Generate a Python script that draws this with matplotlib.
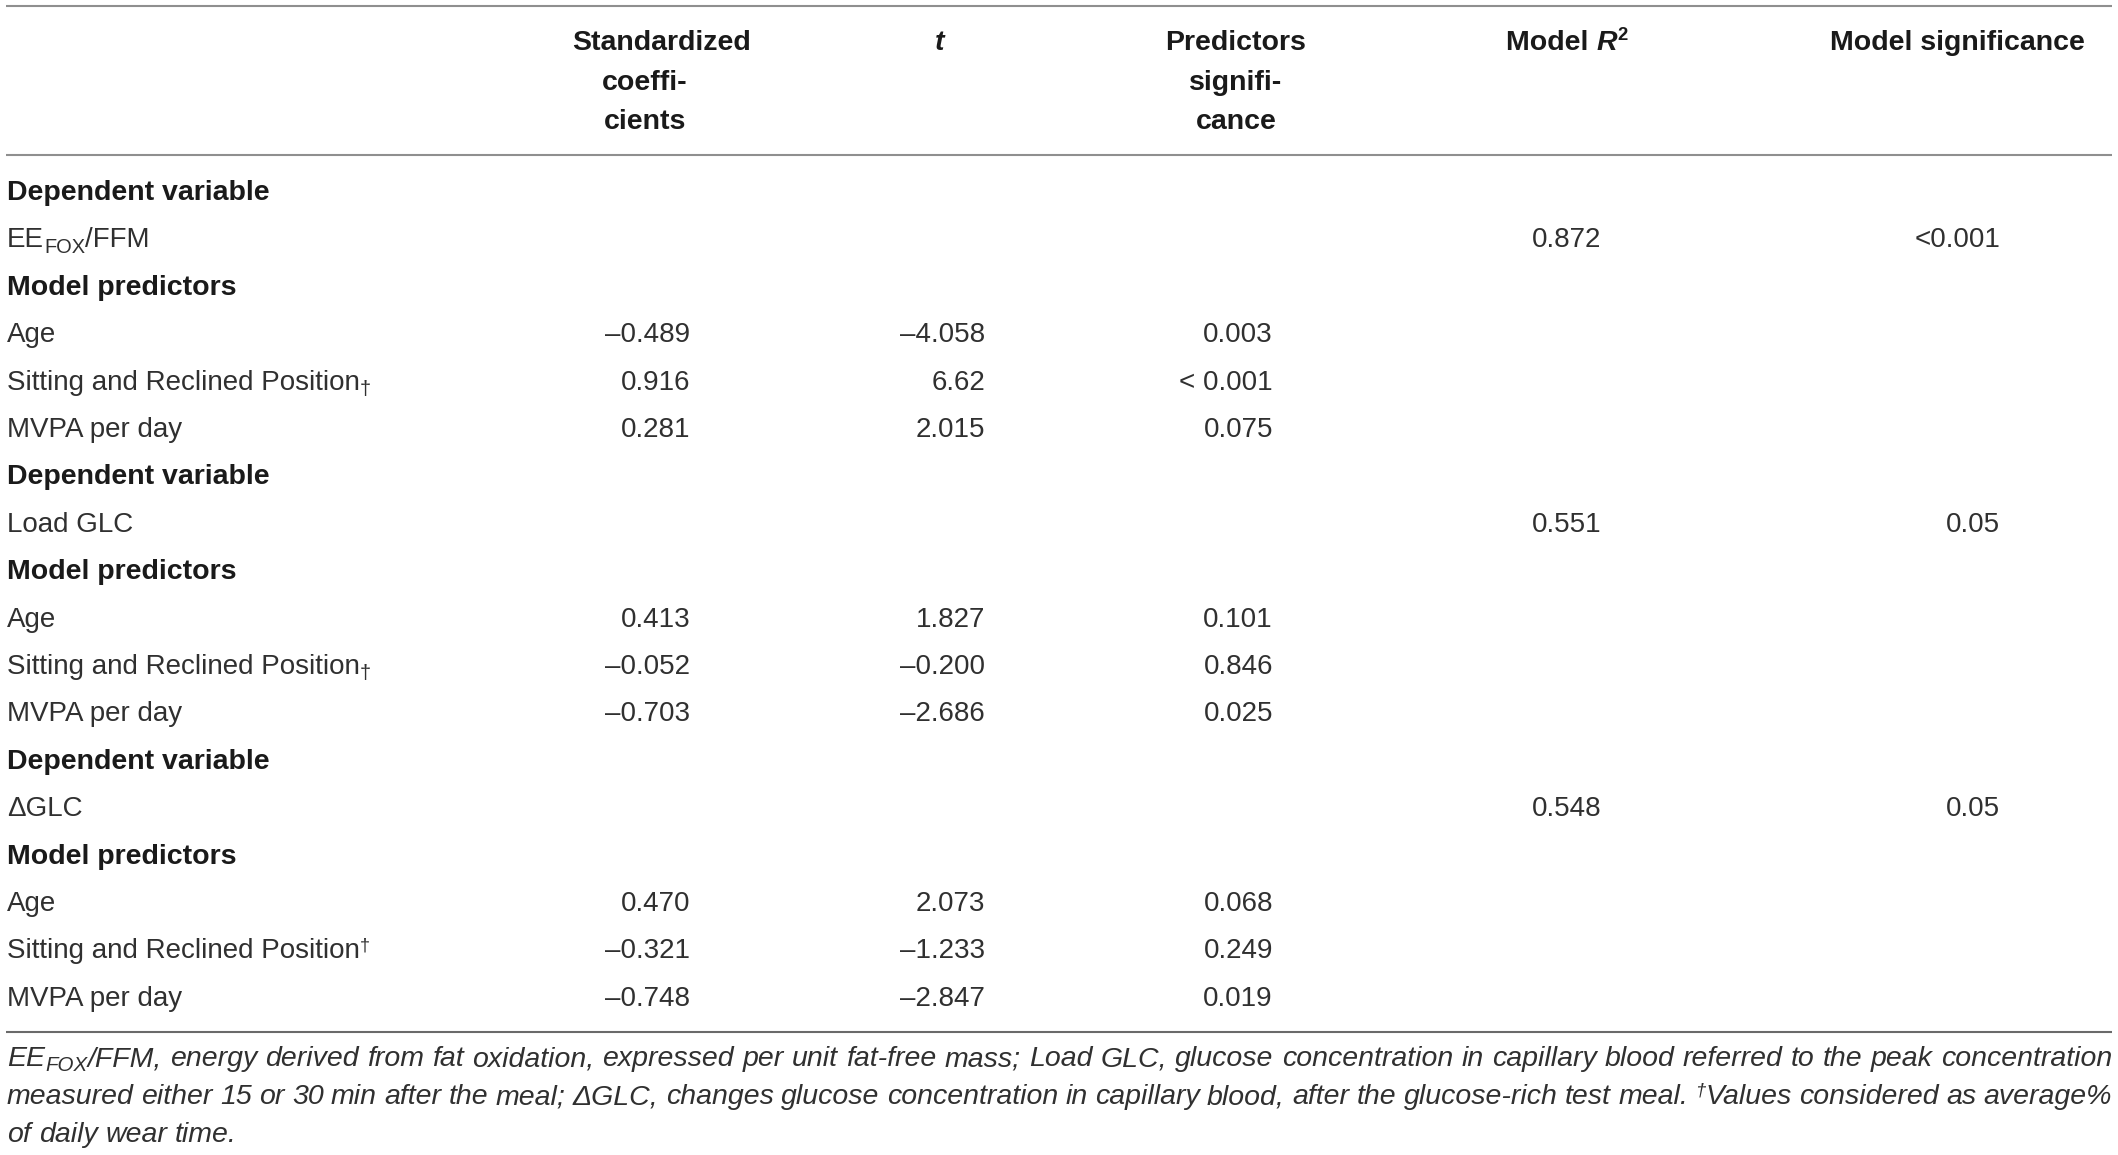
import re
import matplotlib
matplotlib.use('Agg')
import matplotlib.pyplot as plt

# ---------------- data ----------------
col_headers = ["Standardized coeffi- cients", "t", "Predictors signifi- cance", "Model R2", "Model significance"]
dependent_vars = ["EE_{FOX}/FFM", "Load GLC", "\u0394GLC"]
model_r2 = ["0.872", "0.551", "0.548"]
model_sig = ["<0.001", "0.05", "0.05"]
predictor_labels = [
    ["Age", "Sitting and Reclined Position_{\u2020}", "MVPA per day"],
    ["Age", "Sitting and Reclined Position_{\u2020}", "MVPA per day"],
    ["Age", "Sitting and Reclined Position^{\u2020}", "MVPA per day"],
]
std_coef = [["\u20130.489", "0.916", "0.281"],
            ["0.413", "\u20130.052", "\u20130.703"],
            ["0.470", "\u20130.321", "\u20130.748"]]
t_vals = [["\u20134.058", "6.62", "2.015"],
          ["1.827", "\u20130.200", "\u20132.686"],
          ["2.073", "\u20131.233", "\u20132.847"]]
pred_sig = [["0.003", "< 0.001", "0.075"],
            ["0.101", "0.846", "0.025"],
            ["0.068", "0.249", "0.019"]]
section_dep = "Dependent variable"
section_pred = "Model predictors"
footnote_lines = [
    "EE_{FOX}/FFM, energy derived from fat oxidation, expressed per unit fat-free mass; Load GLC, glucose concentration in capillary blood referred to the peak concentration",
    "measured either 15 or 30 min after the meal; \u0394GLC, changes glucose concentration in capillary blood, after the glucose-rich test meal. ^{\u2020}Values considered as average%",
    "of daily wear time.",
]

# ---------------- figure ----------------
W, H = 2118, 1155
fig = plt.figure(figsize=(W / 100, H / 100), dpi=100)
ax = fig.add_axes([0, 0, 1, 1])
ax.set_xlim(0, W)
ax.set_ylim(H, 0)
ax.axis('off')
renderer = fig.canvas.get_renderer()

FAMILY = ['Liberation Sans', 'DejaVu Sans']
BODY = 20
HEAD = 20.5
TXT = '#303030'
BOLDC = '#1a1a1a'


def measure(s, size, weight='normal', style='normal'):
    t = ax.text(0, 0, s, fontsize=size, fontweight=weight, fontstyle=style, family=FAMILY)
    w = t.get_window_extent(renderer).width
    t.remove()
    return w


def adv(s, size, weight='normal', style='normal'):
    return measure('H' + s + 'H', size, weight, style) - measure('HH', size, weight, style)


def parse(s, size, weight='normal', style='normal'):
    runs = []
    for part in re.split(r'(_\{[^}]*\}|\^\{[^}]*\})', s):
        if not part:
            continue
        if part.startswith('_{'):
            runs.append(dict(text=part[2:-1], size=size * 0.72, weight=weight, style=style, dy=size * 0.26))
        elif part.startswith('^{'):
            runs.append(dict(text=part[2:-1], size=size * 0.65, weight=weight, style=style, dy=-size * 0.42))
        else:
            runs.append(dict(text=part, size=size, weight=weight, style=style, dy=0))
    return runs


def runs_width(runs):
    return sum(adv(r['text'], r['size'], r['weight'], r['style']) for r in runs)


def draw_runs(x, y, runs, ha='left', color=TXT):
    total = runs_width(runs)
    if ha == 'right':
        x0 = x - total
    elif ha == 'center':
        x0 = x - total / 2
    else:
        x0 = x
    for r in runs:
        ax.text(x0, y + r['dy'], r['text'], fontsize=r['size'], fontweight=r['weight'],
                fontstyle=r['style'], family=FAMILY, color=color, va='baseline', ha='left')
        x0 += adv(r['text'], r['size'], r['weight'], r['style'])


# ---------------- rules ----------------
X0, X1 = 6, 2112
ax.plot([X0, X1], [6, 6], color='#8f8f8f', lw=1.5, solid_capstyle='butt')
ax.plot([X0, X1], [155, 155], color='#8f8f8f', lw=1.5, solid_capstyle='butt')
ax.plot([X0, X1], [1032, 1032], color='#6a6a6a', lw=1.5, solid_capstyle='butt')

# ---------------- header ----------------
HB = [50, 89.5, 129]
hdr_lines = col_headers[0].split(' ')
ax.text(662, HB[0], hdr_lines[0], fontsize=HEAD, fontweight='bold', family=FAMILY,
        color=BOLDC, ha='center', va='baseline')
for i, s in enumerate(hdr_lines[1:]):
    ax.text(645, HB[i + 1], s, fontsize=HEAD, fontweight='bold', family=FAMILY,
            color=BOLDC, ha='center', va='baseline')
ax.text(940, HB[0], col_headers[1], fontsize=HEAD, fontweight='bold', fontstyle='italic',
        family=FAMILY, color=BOLDC, ha='center', va='baseline')
for i, s in enumerate(col_headers[2].split(' ')):
    ax.text(1236, HB[i], s, fontsize=HEAD, fontweight='bold', family=FAMILY,
            color=BOLDC, ha='center', va='baseline')
r2_runs = [dict(text='Model ', size=HEAD, weight='bold', style='normal', dy=0),
           dict(text='R', size=HEAD, weight='bold', style='italic', dy=0),
           dict(text='2', size=HEAD * 0.65, weight='bold', style='normal', dy=-HEAD * 0.5)]
draw_runs(1567, HB[0], r2_runs, ha='center', color=BOLDC)
ax.text(1957, HB[0], col_headers[4], fontsize=HEAD, fontweight='bold', family=FAMILY,
        color=BOLDC, ha='center', va='baseline')

# ---------------- body ----------------
LX = 7
X_STD, X_T, X_PS, X_R2, X_MS = 690, 985, 1273, 1567, 2000
row = 0


def yb(i):
    return 200 + 47.4 * i


for g in range(len(dependent_vars)):
    ax.text(LX, yb(row), section_dep, fontsize=HEAD, fontweight='bold', family=FAMILY,
            color=BOLDC, va='baseline')
    row += 1
    draw_runs(LX, yb(row), parse(dependent_vars[g], BODY))
    ax.text(X_R2, yb(row), model_r2[g], fontsize=BODY, family=FAMILY, color=TXT,
            ha='center', va='baseline')
    ax.text(X_MS, yb(row), model_sig[g], fontsize=BODY, family=FAMILY, color=TXT,
            ha='right', va='baseline')
    row += 1
    ax.text(LX, yb(row), section_pred, fontsize=HEAD, fontweight='bold', family=FAMILY,
            color=BOLDC, va='baseline')
    row += 1
    for p in range(len(predictor_labels[g])):
        draw_runs(LX, yb(row), parse(predictor_labels[g][p], BODY))
        ax.text(X_STD, yb(row), std_coef[g][p], fontsize=BODY, family=FAMILY, color=TXT,
                ha='right', va='baseline')
        ax.text(X_T, yb(row), t_vals[g][p], fontsize=BODY, family=FAMILY, color=TXT,
                ha='right', va='baseline')
        ax.text(X_PS, yb(row), pred_sig[g][p], fontsize=BODY, family=FAMILY, color=TXT,
                ha='right', va='baseline')
        row += 1

# ---------------- footnote (justified) ----------------
FB = [1066, 1104, 1142]
FL, FR = 7, 2112

# font size chosen so the first line fits the full width with natural spacing
base = 19.0
w1 = [runs_width(parse(w, base, style='italic')) for w in footnote_lines[0].split(' ')]
nat = sum(w1) + adv(' ', base, style='italic') * (len(w1) - 1)
FOOT = base * (FR - FL) * 0.995 / nat

for li, line in enumerate(footnote_lines):
    words = [parse(w, FOOT, style='italic') for w in line.split(' ')]
    widths = [runs_width(w) for w in words]
    if li < len(footnote_lines) - 1 and len(words) > 1:
        gap = (FR - FL - sum(widths)) / (len(words) - 1)
    else:
        gap = adv(' ', FOOT, style='italic')
    x = FL
    for w, wd in zip(words, widths):
        draw_runs(x, FB[li], w)
        x += wd + gap

fig.savefig('out.png', dpi=100)
